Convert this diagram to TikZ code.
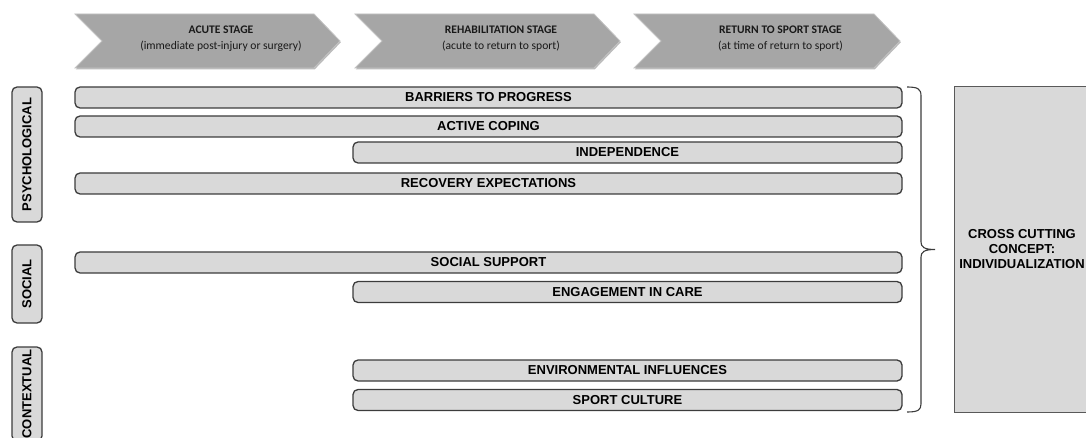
\documentclass[tikz,border=0pt]{standalone}
\usepackage{fontspec}
\setmainfont{Liberation Sans}
\newfontfamily\calib{Carlito}
\usetikzlibrary{shadows}
\definecolor{chevfill}{RGB}{166,166,166}
\definecolor{chevline}{RGB}{195,195,195}
\definecolor{barfill}{RGB}{217,217,217}
\definecolor{barline}{RGB}{60,60,60}
\definecolor{boxline}{RGB}{89,89,89}
\begin{document}
\begin{tikzpicture}[x=1pt,y=-1pt,
  chev/.style={fill=chevfill, draw=chevline, line width=0.8pt, drop shadow={shadow xshift=0.8pt, shadow yshift=-1.3pt, opacity=0.55}},
  chevtext/.style={font=\calib\fontsize{11.6}{16}\selectfont, align=center, inner sep=0pt, text=black!90},
  bar/.style={draw=barline, fill=barfill, line width=1.3pt, rounded corners=5pt, minimum height=21pt, inner sep=0pt, font=\bfseries\fontsize{13}{15}\selectfont},
  side/.style={draw=barline, fill=barfill, line width=1.3pt, rounded corners=5pt, minimum height=30pt, inner sep=0pt, rotate=90, font=\bfseries\fontsize{13}{15}\selectfont},
  cross/.style={draw=boxline, fill=barfill, line width=1pt, inner sep=0pt, minimum width=135pt, minimum height=325pt, align=center, font=\bfseries\fontsize{13}{15}\selectfont},
  brace/.style={draw=barline, line width=1.1pt}
]
\useasboundingbox (0,0) rectangle (1086,438);
\clip (0,0) rectangle (1086,438);

% stage chevrons
\filldraw[chev] (75,14) -- (314,14) -- (340,41) -- (314,68) -- (75,68) -- (102,41) -- cycle;
\filldraw[chev] (355,14) -- (594,14) -- (620,41) -- (594,68) -- (355,68) -- (382,41) -- cycle;
\filldraw[chev] (634,14) -- (874,14) -- (900,41) -- (874,68) -- (634,68) -- (661,41) -- cycle;
\node[chevtext] (acute) at (221,38.5) {\textbf{ACUTE STAGE}\\(immediate post-injury or surgery)};
\node[chevtext] (rehab) at (501,38.5) {\textbf{REHABILITATION STAGE}\\(acute to return to sport)};
\node[chevtext] (rts) at (780.5,38.5) {\textbf{RETURN TO SPORT STAGE}\\(at time of return to sport)};

% side labels
\node[side, minimum width=135pt] (psy) at (27,154.5) {PSYCHOLOGICAL};
\node[side, minimum width=78pt] (soc) at (27,284) {SOCIAL};
\node[side, minimum width=94pt] (ctx) at (27,394) {CONTEXTUAL};

% bars
\node[bar, minimum width=827pt] (barriers) at (488.5,97.5) {BARRIERS TO PROGRESS};
\node[bar, minimum width=827pt] (coping) at (488.5,126.5) {ACTIVE COPING};
\node[bar, minimum width=549pt] (indep) at (627.5,152.5) {INDEPENDENCE};
\node[bar, minimum width=827pt] (recov) at (488.5,183.5) {RECOVERY EXPECTATIONS};
\node[bar, minimum width=827pt] (support) at (488.5,262.5) {SOCIAL SUPPORT};
\node[bar, minimum width=549pt] (engage) at (627.5,292) {ENGAGEMENT IN CARE};
\node[bar, minimum width=549pt] (env) at (627.5,370.5) {ENVIRONMENTAL INFLUENCES};
\node[bar, minimum width=549pt] (culture) at (627.5,400) {SPORT CULTURE};

% brace
\coordinate (btop) at (907,87);
\coordinate (btip) at (935,249.5);
\coordinate (bbot) at (907,412);
\draw[brace] (btop) .. controls (918,87) and (921,89) .. (921,96) -- (921,242)
  .. controls (921,247) and (924,249.5) .. (btip)
  .. controls (924,249.5) and (921,252) .. (921,257) -- (921,404)
  .. controls (921,410) and (918,412) .. (bbot);

% cross cutting concept
\node[cross] (cc) at (1022,249.5) {CROSS CUTTING\\CONCEPT:\\INDIVIDUALIZATION};
\end{tikzpicture}
\end{document}
